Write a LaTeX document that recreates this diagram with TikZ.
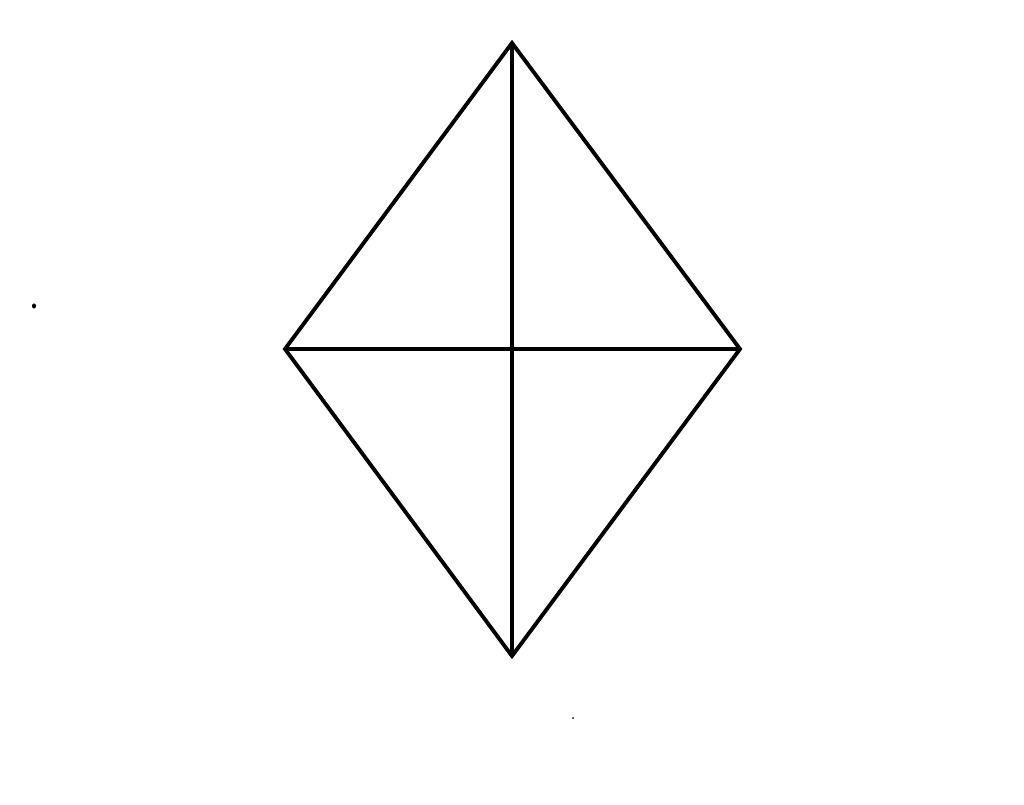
\documentclass[tikz,border=0pt]{standalone}
\begin{document}
\begin{tikzpicture}[edge/.style={line width=1.1pt, line join=miter, black}]
\useasboundingbox (0,0) rectangle (10.24,8.05);
\fill[white] (0,0) rectangle (10.24,8.05);
\coordinate (T) at (5.12,7.62);
\coordinate (L) at (2.85,4.56);
\coordinate (R) at (7.40,4.56);
\coordinate (B) at (5.12,1.49);
\draw[edge] (T) -- (R) -- (B) -- (L) -- cycle;
\draw[edge] (T) -- (B);
\draw[edge] (L) -- (R);
\fill[black] (0.34,4.99) ellipse (0.02 and 0.026);
\fill[black!60] (5.72,0.875) rectangle (5.74,0.86);
\end{tikzpicture}
\end{document}
